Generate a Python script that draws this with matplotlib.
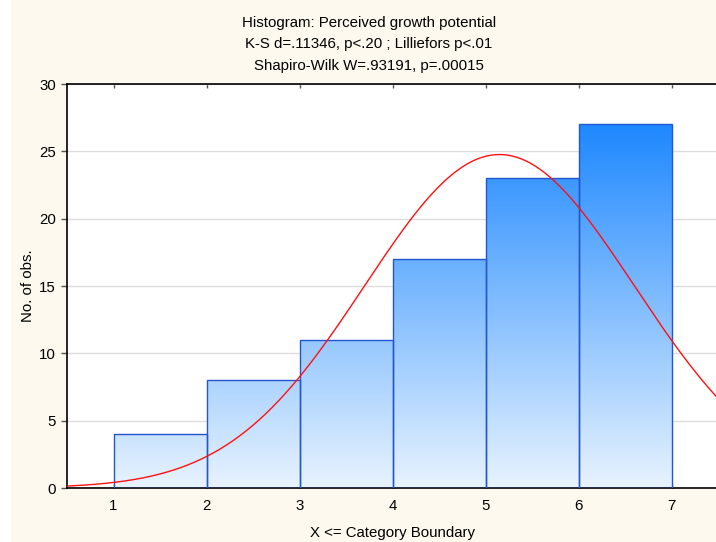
import matplotlib
matplotlib.use('Agg')
import matplotlib.pyplot as plt
import numpy as np
from matplotlib.colors import LinearSegmentedColormap
from matplotlib.patches import Rectangle

plt.rcParams['font.family'] = ['Liberation Sans', 'DejaVu Sans']
plt.rcParams['font.size'] = 10.8

# histogram counts per category (upper boundaries 2..7)
bin_edges = [1, 2, 3, 4, 5, 6, 7]
counts = [4, 8, 11, 17, 23, 27]
yticks = [0, 5, 10, 15, 20, 25, 30]

# fitted normal curve parameters
n_obs = 90
mean_val = 5.15
sd_val = 1.45

title_lines = ["Histogram: Perceived growth potential",
               "K-S d=.11346, p<.20 ; Lilliefors p<.01",
               "Shapiro-Wilk W=.93191, p=.00015"]

fig = plt.figure(figsize=(7.16, 5.42), dpi=100)
fig.patch.set_facecolor('white')
fig.patches.append(Rectangle((11 / 716, 0), 1, 1, transform=fig.transFigure,
                             facecolor='#fdf9ee', edgecolor='none', zorder=-10))

ax = fig.add_axes([67 / 716, 1 - 488 / 542, 651 / 716, 404 / 542])
ax.set_facecolor('white')
ax.set_xlim(0.5, 7.5)
ax.set_ylim(0, 30)

# gradient fill shared across all bars, light at zero, saturated at the top
cmap = LinearSegmentedColormap.from_list('bars', ['#e8f3fe', '#1e88ff'])
ymax = max(counts)
grad = np.linspace(0, 1, 256).reshape(-1, 1)

for i, c in enumerate(counts):
    left, right = bin_edges[i], bin_edges[i + 1]
    im = ax.imshow(grad, cmap=cmap, origin='lower', aspect='auto',
                   extent=(bin_edges[0], bin_edges[-1], 0, ymax), zorder=2,
                   interpolation='bilinear')
    rect = Rectangle((left, 0), right - left, c, facecolor='none',
                     edgecolor='#2255d0', linewidth=1.0, zorder=3)
    ax.add_patch(rect)
    im.set_clip_path(rect)

xs = np.linspace(0.5, 7.5, 400)
ys = n_obs * 1.0 / (sd_val * np.sqrt(2 * np.pi)) * np.exp(-0.5 * ((xs - mean_val) / sd_val) ** 2)
ax.plot(xs, ys, color='#ff1010', linewidth=1.0, zorder=4)

ax.set_yticks(yticks)
ax.set_xticks(bin_edges)
ax.yaxis.grid(True, color='#dddddd', linewidth=1.0)
ax.set_axisbelow(True)

ax.tick_params(axis='x', which='both', top=True, bottom=True, direction='in',
               length=3, width=1, color='#555555', pad=8)
ax.tick_params(axis='y', which='both', left=True, right=True, direction='out',
               length=4, width=1, color='#555555', pad=4)
for sp in ax.spines.values():
    sp.set_linewidth(1.2)
    sp.set_color('black')
ax.spines['right'].set_visible(False)

ax.set_xlabel("X <= Category Boundary", labelpad=9)
ax.set_ylabel("No. of obs.", labelpad=3)

for k, line in enumerate(title_lines):
    fig.text(0.515, 1 - (23 + 21.5 * k) / 542, line, ha='center', va='center')

fig.savefig("out.png", dpi=100, facecolor=fig.get_facecolor())
